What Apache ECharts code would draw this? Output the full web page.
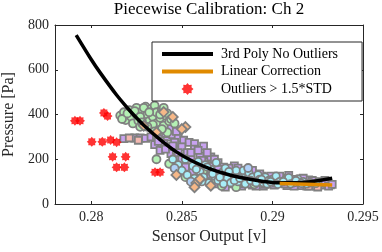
<!DOCTYPE html>
<html><head><meta charset="utf-8">
<script src="https://cdn.jsdelivr.net/npm/echarts@6/dist/echarts.min.js"></script>
<style>html,body{margin:0;padding:0;background:#fff}#c{width:382px;height:252px}</style>
</head><body><div id="c"></div>
<script>
// ---- data ----
const xTicks = [0.28, 0.285, 0.29, 0.295];
const yTicks = [0, 200, 400, 600, 800];

const polyFit = [[0.27917,755],[0.2800,646],[0.2805,586],[0.2814,487],[0.2820,429],[0.2824,393],[0.2829,352],[0.2838,288],[0.2847,233],[0.2856,191],[0.2866,156],[0.2876,131],[0.2886,113],[0.2895,101],[0.2904,95],[0.2913,95],[0.2921,99],[0.2933,115]];
const linearCorr = [[0.2904,92],[0.2933,85]];
const outliers = [[0.2791,372],[0.27938,372],[0.2807,407],[0.2809,393],[0.28003,278],[0.28061,278],[0.28107,286],[0.2814,276],[0.28118,211],[0.2819,211],[0.2814,164],[0.28183,164],[0.28352,142],[0.2838,142]];

const lilacSquares = [[0.2818,292],[0.2824,295],[0.2827,295],[0.2830,293],[0.2833,300],[0.2836,305],[0.2839,290],[0.2842,300],[0.2845,310],[0.2848,295],[0.2851,285],[0.2854,275],[0.2857,270],[0.2862,259],
[0.2844,340],[0.2847,325],[0.2841,315],
[0.2835,265],[0.2838,240],[0.2840,270],[0.2843,255],[0.2844,225],[0.2846,275],[0.2847,240],[0.2849,210],[0.2850,255],[0.2851,185],[0.2853,230],[0.2854,160],[0.2855,205],[0.2857,245],[0.2858,180],[0.2859,130],[0.2860,215],[0.2861,160],[0.2863,190],[0.2864,105],[0.2865,140],[0.2866,210],[0.2867,170],[0.2868,90],[0.2869,130],[0.2870,185],[0.2871,150],[0.2872,100],[0.2873,165],[0.2874,75],[0.2875,130],[0.2877,150],[0.2878,90],[0.2879,170],[0.2880,110],[0.2882,140],[0.2883,80],[0.2885,125],[0.2886,100],[0.2888,135],[0.2889,85],[0.2891,115],[0.2892,95],[0.2894,125],[0.2895,80],[0.2897,110],[0.2898,90],[0.2900,120],[0.2901,85],[0.2903,105],[0.2905,95],[0.2906,115],[0.2908,82],[0.2910,100],[0.2911,110],[0.2913,90],[0.2915,105],[0.2916,82],[0.2918,95],[0.2920,108],[0.2921,85],[0.2923,98],[0.2925,88],[0.2926,100],[0.2928,84],[0.2930,92],[0.2932,86],
[0.2837,280],[0.2841,245],[0.2845,260],[0.2848,230],[0.2850,200],[0.2852,165],[0.2855,230],[0.2856,140],[0.2859,240],[0.2861,195],[0.2863,130],[0.2864,230],[0.2866,120],[0.2868,200],[0.2870,155],[0.2873,125],[0.2876,160],[0.2876,100],[0.2879,130],[0.2881,160],[0.2882,90],[0.2885,145],[0.2887,90],[0.2889,150],[0.2891,80],[0.2893,135],[0.2896,88],[0.2899,125],[0.2902,95],[0.2904,125],[0.2907,90],[0.2909,128],[0.2912,80],[0.2914,98],[0.2917,115],[0.2919,80],[0.2922,105],[0.2924,80],[0.2927,95],[0.2929,105],[0.2931,80],[0.2933,88]];

const greenCircles = [[0.2816,395],[0.2818,410],[0.2819,375],[0.2821,420],[0.2822,390],[0.2823,360],[0.2825,430],[0.2825,400],[0.2826,372],[0.2827,345],[0.2828,415],[0.2829,385],[0.2830,435],[0.2830,355],[0.2831,400],[0.2832,370],[0.2833,425],[0.2833,340],[0.2834,390],[0.2835,440],[0.2836,360],[0.2836,410],[0.2837,330],[0.2838,385],[0.2839,420],[0.2840,350],[0.2841,395],[0.2842,320],[0.2843,370],
[0.2817,380],[0.2820,405],[0.2824,415],[0.2827,390],[0.2829,430],[0.2832,410],[0.2834,355],[0.2838,400],[0.2840,430],[0.2842,405],[0.2844,380],[0.2846,360],[0.2839,335],[0.2835,325],[0.2831,345],[0.2828,365],
[0.2836,200],[0.2843,180],[0.2848,140],[0.2852,120],[0.2858,95],[0.2862,150],[0.2867,110],[0.2872,80],[0.2878,120],[0.2880,75],[0.2884,95],[0.2890,88],[0.2897,100]];

const cyanCircles = [[0.2845,200],[0.2848,175],[0.2850,150],[0.2852,200],[0.2853,130],[0.2856,170],[0.2857,115],[0.2859,190],[0.2860,145],[0.2862,120],[0.2863,175],[0.2865,95],[0.2866,155],[0.2868,125],[0.2869,185],[0.2870,105],[0.2872,140],[0.2874,160],[0.2875,115],[0.2877,95],[0.2878,140],[0.2880,150],[0.2881,100],[0.2883,125],[0.2884,150],[0.2886,110],[0.2887,140],[0.2889,120],[0.2890,100],[0.2892,130],[0.2893,110],[0.2895,95],[0.2896,120],[0.2898,105],[0.2900,110],[0.2902,125],[0.2904,100],[0.2907,108],[0.2909,118],[0.2912,95],[0.2914,112],[0.2917,100],[0.2919,90],
[0.2858,155],[0.2861,100],[0.2864,165],[0.2867,135],[0.2871,120],[0.2873,90],[0.2876,145],[0.2879,105],[0.2882,115],[0.2885,90],[0.2888,105],[0.2891,95],[0.2894,110],[0.2897,90],[0.2899,100],[0.2903,88],[0.2906,100],[0.2910,90],[0.2913,105],[0.2916,92],[0.2921,95],[0.2924,92]];

const peachDiamonds = [[0.2829,350],[0.2840,411],[0.2845,389],[0.2852,344],[0.2850,335],[0.2836,320],[0.2847,130],[0.2858,94],[0.2860,112],[0.2857,75],[0.2866,82]];
const pinkSquares = [[0.2821,295],[0.2826,285],[0.2920,80],[0.2925,76]];
const blueCircles = [[0.28866,161],[0.2846,160],[0.2855,100]];

// ---- chart ----
const FONT = 'Liberation Serif';
const TXT = '#262626';
const EDGE = '#808080';
const star = 'path://M100 50 L83.3 63.8 L85.4 85.4 L63.8 83.3 L50 100 L36.2 83.3 L14.6 85.4 L16.7 63.8 L0 50 L16.7 36.2 L14.6 14.6 L36.2 16.7 L50 0 L63.8 16.7 L85.4 14.6 L83.3 36.2 Z';
const bar = 'path://M0 0 H51 V4 H0 Z';

function cloud(name, data, symbol, size, color) {
  return {name, type:'scatter', data, symbol, symbolSize:size, silent:true,
    itemStyle:{color, borderColor:EDGE, borderWidth:1.8, opacity:1}, z:2};
}

const chart = echarts.init(document.getElementById('c'), null, {renderer:'canvas'});
const boxAxis = {lineStyle:{color:TXT, width:1}};
chart.setOption({
  animation:false,
  backgroundColor:'#fff',
  title:{text:'Piecewise Calibration: Ch 2', left:209, textAlign:'center', top:1, padding:0,
    textStyle:{fontFamily:FONT, fontSize:17, fontWeight:'normal', color:'#000'}},
  grid:{left:55, right:19, top:25, bottom:48, containLabel:false, outerBoundsMode:'none'},
  legend:{
    data:[{name:'3rd Poly No Outliers', icon:bar},{name:'Linear Correction', icon:bar},{name:'Outliers > 1.5*STD'}],
    orient:'vertical', left:152, top:42, padding:[5,24,5,10],
    itemWidth:51, itemHeight:12, itemGap:3.5,
    backgroundColor:'#fff', borderColor:TXT, borderWidth:1, borderRadius:0,
    textStyle:{fontFamily:FONT, fontSize:14, color:'#000', padding:[0,0,0,3]}
  },
  xAxis:[{
    type:'value', min:0.278, max:0.295, position:'bottom',
    name:'Sensor Output [v]', nameLocation:'middle', nameGap:18,
    nameTextStyle:{fontFamily:FONT, fontSize:16, color:TXT},
    axisLine:Object.assign({show:true, onZero:false}, boxAxis),
    axisTick:{show:true, inside:true, length:3, customValues:xTicks, lineStyle:{color:TXT}},
    axisLabel:{customValues:xTicks, margin:6, fontFamily:FONT, fontSize:14, color:TXT,
      formatter:v=>String(+v.toFixed(3))},
    splitLine:{show:false}
  },{
    type:'value', min:0.278, max:0.295, position:'top',
    axisLine:Object.assign({show:true, onZero:false}, boxAxis),
    axisTick:{show:true, inside:true, length:3, customValues:xTicks, lineStyle:{color:TXT}},
    axisLabel:{show:false}, splitLine:{show:false}
  }],
  yAxis:[{
    type:'value', min:0, max:800, interval:200, position:'left',
    name:'Pressure [Pa]', nameLocation:'middle', nameGap:35,
    nameTextStyle:{fontFamily:FONT, fontSize:16, color:TXT},
    axisLine:Object.assign({show:true, onZero:false}, boxAxis),
    axisTick:{show:true, inside:true, length:3, lineStyle:{color:TXT}},
    axisLabel:{margin:6, fontFamily:FONT, fontSize:14, color:TXT},
    splitLine:{show:false}
  },{
    type:'value', min:0, max:800, interval:200, position:'right',
    axisLine:Object.assign({show:true, onZero:false}, boxAxis),
    axisTick:{show:true, inside:true, length:3, lineStyle:{color:TXT}},
    axisLabel:{show:false}, splitLine:{show:false}
  }],
  series:[
    cloud('s1', lilacSquares, 'rect', 7, '#c8a2f0'),
    cloud('s5', pinkSquares, 'rect', 7, '#f4b8b0'),
    cloud('s2', greenCircles, 'circle', 8, '#b4f0b4'),
    cloud('s3', cyanCircles, 'circle', 7.5, '#a8eef8'),
    cloud('s6', blueCircles, 'circle', 8, '#b0d0f8'),
    cloud('s4', peachDiamonds, 'diamond', 10, '#f6b888'),
    {name:'3rd Poly No Outliers', type:'line', data:polyFit, smooth:0.3, symbol:'none',
      lineStyle:{color:'#000', width:3.5}, itemStyle:{color:'#000'}, z:5},
    {name:'Linear Correction', type:'line', data:linearCorr, symbol:'none',
      lineStyle:{color:'#e08a00', width:3.5}, itemStyle:{color:'#e08a00'}, z:6},
    {name:'Outliers > 1.5*STD', type:'scatter', data:outliers, symbol:star, symbolSize:10,
      itemStyle:{color:'#ff0000'}, z:4}
  ]
});
</script></body></html>
